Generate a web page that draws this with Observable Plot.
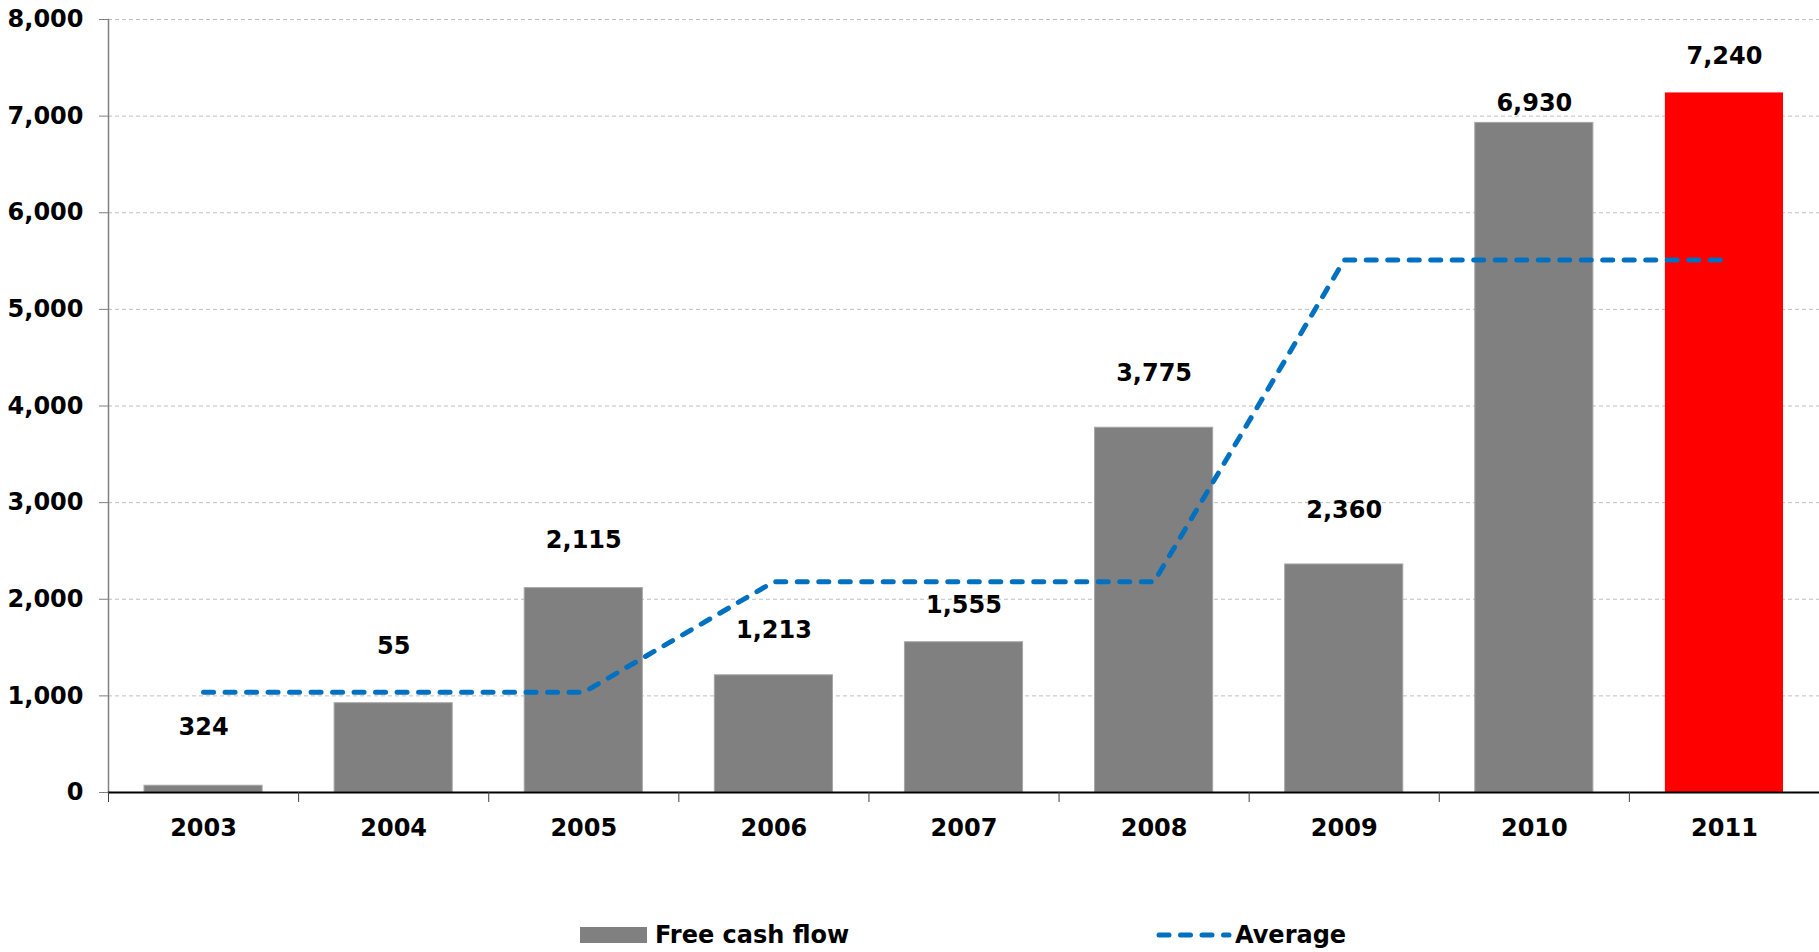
<!DOCTYPE html>
<html>
<head>
<meta charset="utf-8">
<script src="https://cdn.jsdelivr.net/npm/d3@7"></script>
<script src="https://cdn.jsdelivr.net/npm/@observablehq/plot@0.6"></script>
<style>
  html, body { margin: 0; padding: 0; background: #fff; }
  body { width: 1819px; font-family: "DejaVu Sans", Verdana, sans-serif; }
  #legend { position: relative; height: 72px; font-weight: bold; font-size: 24px; color: #000; }
  .item { position: absolute; top: 40px; height: 30px; display: flex; align-items: center; }
  .item svg { display: block; }
</style>
</head>
<body>
<div id="chart"></div>
<div id="legend">
  <div class="item" style="left:580px">
    <svg width="67" height="16"><rect x="0" y="0" width="67" height="16" fill="#808080"></rect></svg>
    <span style="margin-left:8px">Free cash flow</span>
  </div>
  <div class="item" style="left:1155px">
    <svg width="78" height="16"><line x1="4" y1="8" x2="74" y2="8" stroke="#0070C0" stroke-width="5" stroke-linecap="round" stroke-dasharray="10,11.5"></line></svg>
    <span style="margin-left:2px">Average</span>
  </div>
</div>
<script>
const years = [2003, 2004, 2005, 2006, 2007, 2008, 2009, 2010, 2011];
const freeCashFlow = [70, 924, 2115, 1213, 1555, 3775, 2360, 6930, 7240];
const valueLabels = ["324", "55", "2,115", "1,213", "1,555", "3,775", "2,360", "6,930", "7,240"];
const labelAt = [672, 1508, 2613, 1677, 1940, 4341, 2924, 7130, 7620];
const average = [1037, 1037, 1037, 2181, 2181, 2181, 5510, 5510, 5510];
const barColors = ["#808080", "#808080", "#808080", "#808080", "#808080", "#808080", "#808080", "#808080", "#FF0000"];
const yTicks = [0, 1000, 2000, 3000, 4000, 5000, 6000, 7000, 8000];

const data = years.map((year, i) => ({
  year, value: freeCashFlow[i], label: valueLabels[i], labelY: labelAt[i],
  avg: average[i], color: barColors[i]
}));
const boundaries = years.map(y => y - 0.5).concat([years[years.length - 1] + 0.5]);

const font = "DejaVu Sans, Verdana, sans-serif";

const chart = Plot.plot({
  width: 1819,
  height: 880,
  marginLeft: 108,
  marginRight: 0,
  marginTop: 19,
  marginBottom: 88,
  style: { fontFamily: font, fontWeight: "bold", fontSize: "24px", color: "#000", background: "#fff" },
  x: { type: "linear", domain: [2002.5, 2011.5] },
  y: { domain: [0, 8000] },
  marks: [
    Plot.gridY(yTicks.slice(1), { stroke: "#bfbfbf", strokeOpacity: 1, strokeDasharray: "4,3" }),
    Plot.rectY(data, {
      x1: d => d.year - 0.5, x2: d => d.year + 0.5, y: "value",
      insetLeft: 36, insetRight: 36,
      fill: "color",
      stroke: d => d.color === "#808080" ? "#a6a6a6" : "none",
      strokeWidth: 1
    }),
    Plot.line(data, {
      x: "year", y: "avg", stroke: "#0070C0", strokeWidth: 5,
      strokeDasharray: "10,11.5", strokeLinecap: "round", strokeLinejoin: "round"
    }),
    Plot.text(data, {
      x: "year", y: "labelY", text: "label",
      fontSize: 24, fontWeight: "bold", fill: "#000"
    }),
    Plot.frame({ anchor: "left", stroke: "#808080", strokeWidth: 1.5 }),
    Plot.axisY({
      ticks: yTicks, tickSize: 9, tickPadding: 16,
      tickFormat: d3.format(","), stroke: "#808080", fill: "#000",
      fontSize: 24, fontWeight: "bold", label: null
    }),
    Plot.ruleY([0], { stroke: "#000", strokeWidth: 2 }),
    Plot.axisX({
      ticks: boundaries, tickSize: 10, tickFormat: () => "",
      stroke: "#404040", label: null
    }),
    Plot.axisX({
      ticks: years, tickSize: 0, tickPadding: 26,
      tickFormat: d => String(d), fill: "#000",
      fontSize: 24, fontWeight: "bold", label: null
    })
  ]
});
document.getElementById("chart").appendChild(chart);
</script>
</body>
</html>
